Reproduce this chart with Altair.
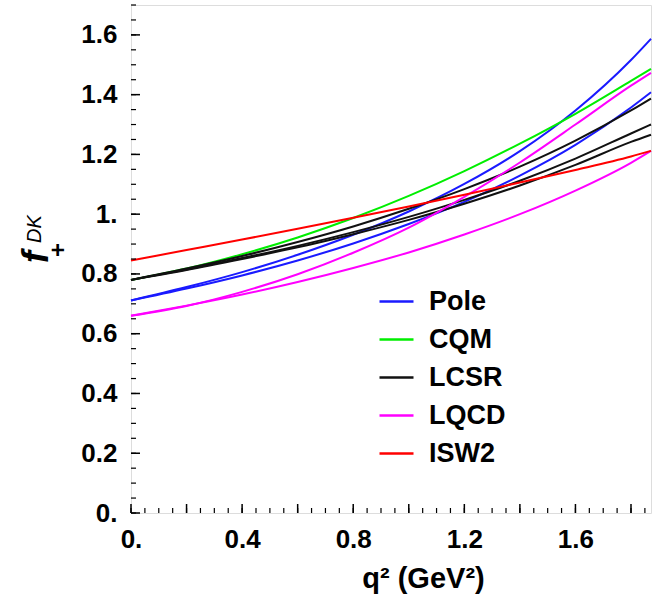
import altair as alt
import pandas as pd

# ---- data ----
q = [0.0, 0.2, 0.4, 0.6, 0.8, 1.0, 1.2, 1.4, 1.6, 1.8, 1.872]

pole_a = [0.711, 0.756, 0.806, 0.864, 0.931, 1.009, 1.101, 1.211, 1.347, 1.516, 1.587]
pole_b = [0.711, 0.751, 0.795, 0.845, 0.902, 0.967, 1.041, 1.129, 1.232, 1.357, 1.408]
cqm = [0.780, 0.818, 0.866, 0.922, 0.987, 1.061, 1.144, 1.236, 1.336, 1.446, 1.486]
lcsr_a = [0.780, 0.818, 0.860, 0.907, 0.959, 1.018, 1.084, 1.159, 1.246, 1.347, 1.387]
lcsr_b = [0.780, 0.815, 0.853, 0.894, 0.940, 0.991, 1.048, 1.112, 1.186, 1.270, 1.300]
lcsr_c = [0.780, 0.813, 0.850, 0.889, 0.933, 0.981, 1.035, 1.096, 1.165, 1.242, 1.266]
lqcd_a = [0.660, 0.693, 0.740, 0.799, 0.871, 0.955, 1.058, 1.173, 1.300, 1.430, 1.473]
lqcd_b = [0.660, 0.694, 0.731, 0.773, 0.820, 0.872, 0.932, 1.000, 1.079, 1.172, 1.212]
isw2 = [0.845, 0.880, 0.915, 0.951, 0.988, 1.026, 1.065, 1.106, 1.148, 1.193, 1.212]

models = ["Pole", "CQM", "LCSR", "LQCD", "ISW2"]
colors = ["#1a1aff", "#00ee00", "#111111", "#ff00ff", "#ff0000"]

x_label_values = [0.0, 0.4, 0.8, 1.2, 1.6]
y_label_values = [0.0, 0.2, 0.4, 0.6, 0.8, 1.0, 1.2, 1.4, 1.6]
x_major_ticks = [0.0, 0.2, 0.4, 0.6, 0.8, 1.0, 1.2, 1.4, 1.6, 1.8]
x_minor_ticks = [round(0.05 * i, 2) for i in range(0, 38)]
y_major_ticks = [0.0, 0.2, 0.4, 0.6, 0.8, 1.0, 1.2, 1.4, 1.6]
y_minor_ticks = [round(0.05 * i, 2) for i in range(0, 35)]

curves = [
    ("Pole", "pole_a", pole_a), ("Pole", "pole_b", pole_b),
    ("CQM", "cqm", cqm),
    ("LCSR", "lcsr_a", lcsr_a), ("LCSR", "lcsr_b", lcsr_b), ("LCSR", "lcsr_c", lcsr_c),
    ("LQCD", "lqcd_a", lqcd_a), ("LQCD", "lqcd_b", lqcd_b),
    ("ISW2", "isw2", isw2),
]
rows = []
for order, (m, cid, vals) in enumerate(curves):
    for qq, v in zip(q, vals):
        rows.append({"q": qq, "f": v, "model": m, "curve": cid, "order": order})
df = pd.DataFrame(rows)

W, H = 520, 508
FONT = "Liberation Sans"
xscale = alt.Scale(domain=[0, 1.872], nice=False, zero=False)
yscale = alt.Scale(domain=[0, 1.7], nice=False, zero=False)

lines = alt.Chart(df).mark_line(strokeWidth=2, interpolate="monotone").encode(
    x=alt.X("q:Q", scale=xscale,
            axis=alt.Axis(values=x_label_values, ticks=False, tickSize=0, domain=False, grid=False,
                          labelExpr="datum.value == 0 ? '0.' : format(datum.value, '.1f')",
                          labelFontSize=26, labelFont=FONT, labelFontWeight="bold", labelColor="black",
                          labelPadding=13, labelFlush=False,
                          title="q² (GeV²)", titleFont=FONT, titleFontSize=29, titleFontWeight="bold",
                          titleColor="black", titleX=292, titleY=74, titleBaseline="alphabetic",
                          titleAlign="center")),
    y=alt.Y("f:Q", scale=yscale,
            axis=alt.Axis(values=y_label_values, ticks=False, tickSize=0, domain=False, grid=False,
                          labelExpr="datum.value == 0 ? '0.' : datum.value == 1 ? '1.' : format(datum.value, '.1f')",
                          labelFontSize=26, labelFont=FONT, labelFontWeight="bold", labelColor="black",
                          labelPadding=14, labelFlush=False, title=None)),
    color=alt.Color("model:N", scale=alt.Scale(domain=models, range=colors),
                    legend=alt.Legend(title=None, orient="none", legendX=247, legendY=278,
                                      symbolType="stroke", symbolSize=1156, symbolStrokeWidth=2.5,
                                      labelFontSize=27, labelFont=FONT, labelFontWeight="bold",
                                      labelColor="black", rowPadding=6, labelOffset=14,
                                      padding=0)),
    detail="curve:N",
    order="order:Q",
)

xmaj = alt.Chart(pd.DataFrame({"v": x_major_ticks})).mark_rule(color="black", strokeWidth=1.5).encode(
    x=alt.X("v:Q", scale=xscale), y=alt.value(H), y2=alt.value(H - 9))
xmin = alt.Chart(pd.DataFrame({"v": x_minor_ticks})).mark_rule(color="black", strokeWidth=1.2).encode(
    x=alt.X("v:Q", scale=xscale), y=alt.value(H), y2=alt.value(H - 5))
ymaj = alt.Chart(pd.DataFrame({"v": y_major_ticks})).mark_rule(color="black", strokeWidth=1.5).encode(
    y=alt.Y("v:Q", scale=yscale), x=alt.value(0), x2=alt.value(9))
ymin = alt.Chart(pd.DataFrame({"v": y_minor_ticks})).mark_rule(color="black", strokeWidth=1.2).encode(
    y=alt.Y("v:Q", scale=yscale), x=alt.value(0), x2=alt.value(5))

# y title: f_+^{DK}
ttl = pd.DataFrame({"t": ["f"]})
t_f = alt.Chart(ttl).mark_text(text="f", font=FONT, fontSize=36, fontWeight="bold", fontStyle="italic",
                               angle=270, align="center", baseline="alphabetic", color="black").encode(
    x=alt.value(-83), y=alt.value(252))
t_p = alt.Chart(ttl).mark_text(text="+", font=FONT, fontSize=24, fontWeight="bold",
                               angle=270, align="center", baseline="alphabetic", color="black").encode(
    x=alt.value(-65), y=alt.value(245))
t_dk = alt.Chart(ttl).mark_text(text="DK", font=FONT, fontSize=20, fontStyle="italic",
                                angle=270, align="center", baseline="alphabetic", color="black").encode(
    x=alt.value(-90), y=alt.value(224))

chart = alt.layer(lines, xmin, xmaj, ymin, ymaj, t_f, t_p, t_dk).properties(
    width=W, height=H,
    autosize=alt.AutoSizeParams(type="none"),
    padding={"left": 131, "top": 5, "right": 5, "bottom": 86},
).configure_view(stroke="black", strokeWidth=2.5).configure(background="white")

chart.save("out.html", embed_options={"renderer": "svg", "actions": False})
